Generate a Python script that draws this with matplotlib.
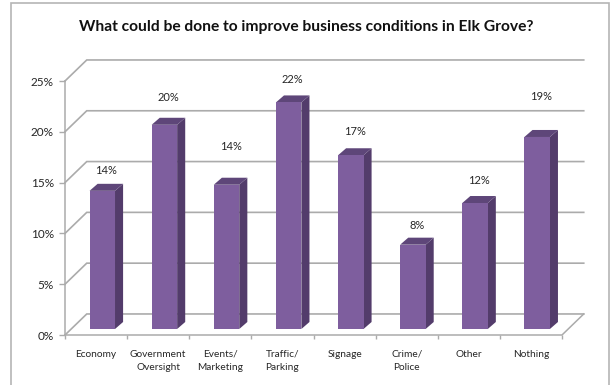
import matplotlib
matplotlib.use("Agg")
import matplotlib.pyplot as plt
from matplotlib.patches import Polygon, Rectangle

categories = ["Economy", "Government\nOversight", "Events/\nMarketing", "Traffic/\nParking",
              "Signage", "Crime/\nPolice", "Other", "Nothing"]
values = [13.6, 20.1, 14.2, 22.3, 17.1, 8.3, 12.4, 18.9]
y_ticks = [0, 5, 10, 15, 20, 25]
title = "What could be done to improve business conditions in Elk Grove?"

# how far each percent label sits above its bar, in pixels
label_lift = [20, 27, 38, 23, 24, 19, 23, 40]

FRONT = "#7E5E9E"
SIDE = "#533C6B"
TOP = "#5E4679"
GRID = "#ABABAB"
TEXT = "#262626"
FONT = "Lato"

# fake 3d: depth of the chart box and of one bar, in data units
WALL_DX, WALL_DY = 0.35, 2.07
BAR_DX, BAR_DY = 0.13, 0.69
BAR_SHIFT_X, BAR_SHIFT_Y = 0.10, 0.59
BAR_W = 0.41

fig = plt.figure(figsize=(6.14, 3.85), dpi=100)
fig.add_artist(Rectangle((11 / 614, -0.01), 598 / 614, 1 - 3 / 385 + 0.01, transform=fig.transFigure,
                         fill=False, ec="#B5B5B5", lw=1.2))

ax = fig.add_axes([65 / 614, 50 / 385, 497 / 614, 254 / 385])
ax.set_xlim(-0.5, 7.5)
ax.set_ylim(0, 25)
for s in ax.spines.values():
    s.set_visible(False)
ax.patch.set_visible(False)

# walls: gridlines run along the back and fold forward to the value axis
left, right = -0.5, 7.5
for v in y_ticks:
    ax.plot([left, left + WALL_DX, right + WALL_DX], [v, v + WALL_DY, v + WALL_DY],
            color=GRID, lw=1.2, clip_on=False, zorder=1, solid_joinstyle="miter")
ax.plot([left, left], [0, 25], color=GRID, lw=1.1, clip_on=False, zorder=1)
ax.plot([left, right, right + WALL_DX], [0, 0, WALL_DY], color=GRID, lw=1.1, clip_on=False, zorder=1)

# bars: side and top faces as polygons, front face from ax.bar
xs = list(range(len(values)))
for x, v, lift in zip(xs, values, label_lift):
    x0 = x - BAR_W / 2 + BAR_SHIFT_X
    x1 = x0 + BAR_W
    y0 = BAR_SHIFT_Y
    y1 = y0 + v
    ax.add_patch(Polygon([(x1, y0), (x1 + BAR_DX, y0 + BAR_DY), (x1 + BAR_DX, y1 + BAR_DY), (x1, y1)],
                         fc=SIDE, ec="none", zorder=3, clip_on=False))
    ax.add_patch(Polygon([(x0, y1), (x0 + BAR_DX, y1 + BAR_DY), (x1 + BAR_DX, y1 + BAR_DY), (x1, y1)],
                         fc=TOP, ec="none", zorder=3, clip_on=False))
    ax.annotate(f"{v:.0f}%", (x + BAR_SHIFT_X + BAR_DX / 2, y1), xytext=(0, lift), textcoords="offset pixels",
                ha="center", va="center", fontsize=8, color=TEXT, family=FONT, annotation_clip=False)
ax.bar([x + BAR_SHIFT_X for x in xs], values, bottom=BAR_SHIFT_Y, width=BAR_W, color=FRONT, zorder=4, clip_on=False)

ax.set_yticks(y_ticks)
ax.set_yticklabels([f"{v}%" for v in y_ticks], fontsize=8.5, color=TEXT, family=FONT)
ax.set_xticks(xs)
ax.set_xticklabels(categories, fontsize=7.3, color=TEXT, family=FONT, linespacing=1.7)
ax.set_xticks([i - 0.5 for i in range(len(values) + 1)], minor=True)
ax.tick_params(axis="x", which="major", length=0, pad=10.5)
ax.tick_params(axis="x", which="minor", length=3, color=GRID, width=1)
ax.tick_params(axis="y", length=4, color=GRID, width=1, pad=4)

fig.text(306 / 614, 1 - 27 / 385, title, ha="center", va="center", fontsize=11.25, fontweight="bold",
         color="#111111", family=FONT)

fig.savefig("out.png", dpi=100)
